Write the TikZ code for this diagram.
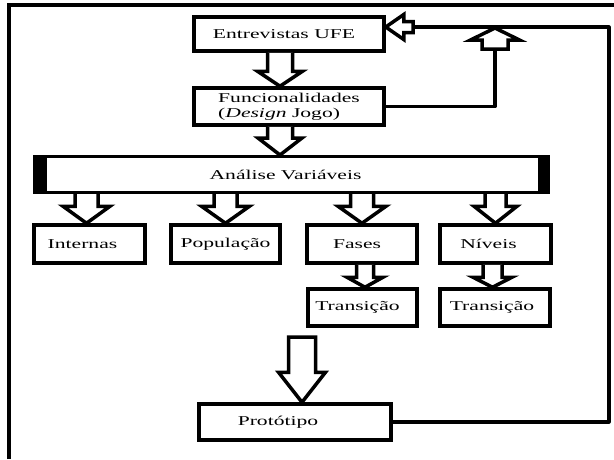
\documentclass[tikz,border=0pt]{standalone}
\usepackage{fontspec}
\setmainfont[FakeStretch=1.6]{Liberation Serif}
\usetikzlibrary{calc}
\tikzset{
  box/.style={draw, line width=3.5pt, inner sep=0pt, align=center, font=\fontsize{13.5}{15}\selectfont},
  barrow/.style={draw, line width=3.5pt, fill=white, line join=miter, miter limit=10},
  link/.style={draw, line width=3.2pt, line join=round},
}
% vertical hollow block arrow pointing down: #1 tail, #2 tip, #3 half shaft, #4 half head, #5 head length
\newcommand\arrdn[5]{\draw[barrow] let \p1=(#1), \p2=(#2) in
  (\x1-#3,\y1) -- (\x1-#3,\y2+#5) -- (\x1-#4,\y2+#5) -- (\x1,\y2) -- (\x1+#4,\y2+#5) -- (\x1+#3,\y2+#5) -- (\x1+#3,\y1);}
\newcommand\arrdnc[5]{\draw[barrow] let \p1=(#1), \p2=(#2) in
  (\x1-#3,\y1) -- (\x1-#3,\y2+#5) -- (\x1-#4,\y2+#5) -- (\x1,\y2) -- (\x1+#4,\y2+#5) -- (\x1+#3,\y2+#5) -- (\x1+#3,\y1) -- cycle;}
\newcommand\arrup[5]{\draw[barrow] let \p1=(#1), \p2=(#2) in
  (\x1-#3,\y1) -- (\x1-#3,\y2-#5) -- (\x1-#4,\y2-#5) -- (\x1,\y2) -- (\x1+#4,\y2-#5) -- (\x1+#3,\y2-#5) -- (\x1+#3,\y1) -- cycle;}
\newcommand\arrlt[5]{\draw[barrow] let \p1=(#1), \p2=(#2) in
  (\x1,\y1-#3) -- (\x2+#5,\y1-#3) -- (\x2+#5,\y1-#4) -- (\x2,\y1) -- (\x2+#5,\y1+#4) -- (\x2+#5,\y1+#3) -- (\x1,\y1+#3) -- cycle;}
\begin{document}
\begin{tikzpicture}[x=1pt,y=-1pt]
\useasboundingbox (0,0) rectangle (614,459);
% frame
\draw[line width=4pt] (9,459) -- (9,5) -- (614,5);

\node[box, minimum width=190pt, minimum height=34pt] (ent) at (289,34) {Entrevistas UFE\hspace*{10pt}};
\node[box, minimum width=190pt, minimum height=37pt, align=left] (fun) at (289,106.5) {Funcionalidades\\(\textit{Design} Jogo)};
\node[box, line width=3pt, minimum width=514pt, minimum height=36pt] (ana) at (291.5,174.5) {Análise Variáveis\hspace*{12pt}};
\fill (ana.north west) rectangle ([xshift=14pt]ana.south west);
\fill (ana.north east) rectangle ([xshift=-12pt]ana.south east);

\node[box, minimum width=111pt, minimum height=38pt] (int) at (89.5,244) {Internas\hspace*{14pt}};
\node[box, minimum width=109pt, minimum height=38pt] (pop) at (225.5,244) {População};
\node[box, minimum width=110pt, minimum height=38pt] (fas) at (362,244) {Fases\hspace*{10pt}};
\node[box, minimum width=111pt, minimum height=38pt] (niv) at (495.5,244) {Níveis\hspace*{14pt}};
\node[box, minimum width=109pt, minimum height=37pt] (tr1) at (362.5,307.5) {Transição\hspace*{10pt}};
\node[box, minimum width=110pt, minimum height=37pt] (tr2) at (495,307.5) {Transição\hspace*{6pt}};
\node[box, minimum width=192pt, minimum height=36pt] (pro) at (295,422) {Protótipo\hspace*{34pt}};

\coordinate (bigT) at (302,337);
\coordinate (upT) at (495,49);
\coordinate (upTip) at (495,28);
\coordinate (ltT) at (413,27);
\coordinate (rtop) at (609,27);

% down arrows
\arrdn{[xshift=-9pt]ent.south}{fun.north}{12.5pt}{22.5pt}{15pt}
\arrdn{[xshift=-9pt]fun.south}{ana.north}{12.5pt}{22pt}{17pt}
\arrdn{[xshift=-3pt]int.north |- ana.south}{int.north}{11.5pt}{23.5pt}{17pt}
\arrdn{pop.north |- ana.south}{pop.north}{11.5pt}{24pt}{17pt}
\arrdn{fas.north |- ana.south}{fas.north}{11.5pt}{24pt}{17pt}
\arrdn{niv.north |- ana.south}{niv.north}{10.5pt}{21.5pt}{17pt}
\arrdn{[xshift=3pt]fas.south}{tr1.north}{8.5pt}{18pt}{10pt}
\arrdn{[xshift=-3pt]niv.south}{tr2.north}{9.5pt}{19.5pt}{10pt}
\arrdnc{bigT}{pro.north}{13.5pt}{23.5pt}{30pt}

% feedback from Funcionalidades
\draw[link] (fun.east) -- (fun.east -| upT) -- (upT);
\arrup{upT}{upTip}{13pt}{24.5pt}{12pt}

% loop from Protótipo
\draw[link] (pro.east) -- (pro.east -| rtop) -- (rtop) -- (ltT);
\arrlt{ltT}{[yshift=7pt]ent.east}{5.5pt}{12.5pt}{18pt}
\end{tikzpicture}
\end{document}
